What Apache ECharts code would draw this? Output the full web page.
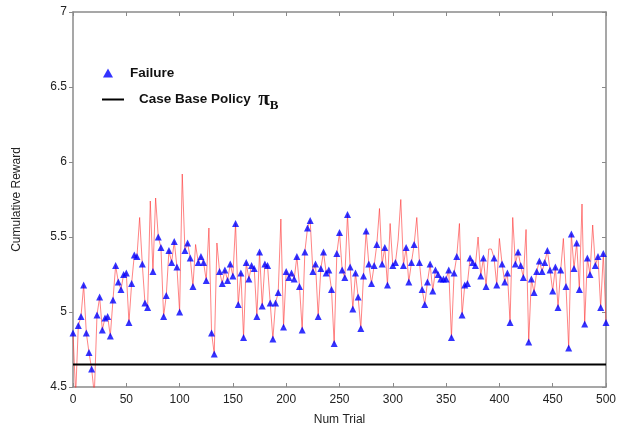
<!DOCTYPE html>
<html>
<head>
<meta charset="utf-8">
<script src="https://cdn.jsdelivr.net/npm/echarts@6/dist/echarts.min.js"></script>
<style>
html,body{margin:0;padding:0;background:#fff;}
#chart{width:620px;height:431px;}
</style>
</head>
<body>
<div id="chart"></div>
<script>
// Trials are sampled every 2.5 trials from 0 to 500
const trialStart = 0;
const trialStep = 2.5;
// Cumulative reward per sample
const rewardValues = [
4.86,4.45,4.91,4.97,5.18,4.86,4.73,4.62,4.45,4.98,
5.10,4.88,4.96,4.97,4.84,5.08,5.31,5.20,5.15,5.25,
5.26,4.93,5.19,5.38,5.37,5.63,5.32,5.06,5.03,5.74,
5.27,5.76,5.50,5.43,4.97,5.11,5.41,5.33,5.47,5.30,
5.00,5.92,5.41,5.46,5.36,5.17,5.45,5.33,5.37,5.33,
5.21,5.56,4.86,4.72,5.46,5.27,5.19,5.28,5.21,5.32,
5.24,5.59,5.05,5.26,4.83,5.33,5.22,5.31,5.29,4.97,
5.40,5.04,5.32,5.31,5.06,4.82,5.06,5.13,5.62,4.90,
5.27,5.23,5.26,5.22,5.37,5.17,4.88,5.40,5.56,5.61,
5.27,5.32,4.97,5.29,5.40,5.26,5.28,5.15,4.79,5.39,
5.53,5.28,5.23,5.65,5.30,5.02,5.26,5.10,4.89,5.24,
5.54,5.32,5.19,5.31,5.45,5.69,5.32,5.43,5.18,5.59,
5.31,5.33,5.48,5.75,5.31,5.43,5.20,5.33,5.45,5.63,
5.33,5.15,5.05,5.20,5.32,5.14,5.28,5.25,5.22,5.22,
5.22,5.28,4.83,5.26,5.37,5.59,4.98,5.18,5.19,5.36,
5.33,5.31,5.50,5.24,5.36,5.17,5.42,5.42,5.36,5.18,
5.49,5.32,5.20,5.26,4.93,5.63,5.32,5.40,5.31,5.23,
5.55,4.80,5.22,5.13,5.27,5.34,5.27,5.33,5.41,5.28,
5.14,5.30,5.03,5.28,5.49,5.17,4.76,5.52,5.29,5.46,
5.15,5.72,4.92,5.36,5.25,5.58,5.31,5.37,5.03,5.39,
4.93
];
// 1 = failure (blue triangle) at that sample, 0 = no failure
const failureFlags = [
1,0,1,1,1,1,1,1,0,1,
1,1,1,1,1,1,1,1,1,1,
1,1,1,1,1,0,1,1,1,0,
1,0,1,1,1,1,1,1,1,1,
1,0,1,1,1,1,0,1,1,1,
1,0,1,1,0,1,1,1,1,1,
1,1,1,1,1,1,1,1,1,1,
1,1,1,1,1,1,1,1,0,1,
1,1,1,1,1,1,1,1,1,1,
1,1,1,1,1,1,1,1,1,1,
1,1,1,1,1,1,1,1,1,1,
1,1,1,1,1,0,1,1,1,0,
1,1,0,0,1,1,1,1,1,0,
1,1,1,1,1,1,1,1,1,1,
1,1,1,1,1,0,1,1,1,1,
1,1,0,1,1,1,0,0,1,1,
0,1,1,1,1,0,1,1,1,1,
0,1,1,1,1,1,1,1,1,1,
1,1,1,1,0,1,1,1,1,1,
1,0,1,1,1,0,1,1,1,1,
1
];
const baselineName = 'Case Base Policy';
const baselineValue = 4.65;
const baselineRange = [0, 500];
const xTicks = {min: 0, max: 500, interval: 50};
const yTicks = {min: 4.5, max: 7, interval: 0.5};

const linePoints = rewardValues.map((v, i) => [trialStart + i * trialStep, v]);
const failurePoints = linePoints.filter((p, i) => failureFlags[i] === 1);
const baselinePoints = baselineRange.map(x => [x, baselineValue]);

const axisGray = '#8a8a8a';
const font = 'Liberation Sans, Arial, sans-serif';

const chart = echarts.init(document.getElementById('chart'), null, {renderer: 'canvas'});
chart.setOption({
  animation: false,
  backgroundColor: '#fff',
  grid: {left: 73, right: 14, top: 12, bottom: 39, containLabel: false},
  legend: [
    {
      data: [{name: 'Failure', icon: 'triangle'}],
      left: 98, top: 61, orient: 'vertical',
      itemWidth: 10, itemHeight: 9,
      textStyle: {fontFamily: font, fontWeight: 'bold', fontSize: 13.5, color: '#111', padding: [0, 0, 0, 12]}
    },
    {
      data: [{name: baselineName, icon: 'rect'}],
      left: 97, top: 84, orient: 'vertical',
      itemWidth: 22, itemHeight: 2,
      formatter: function (n) { return '{t|' + n + '  }{pi|π}{sub|B}'; },
      textStyle: {
        fontFamily: font, fontWeight: 'bold', fontSize: 13.5, color: '#111', padding: [0, 0, 0, 10],
        rich: {
          t: {fontFamily: font, fontWeight: 'bold', fontSize: 13.5, color: '#111'},
          pi: {fontFamily: 'Liberation Serif, serif', fontWeight: 'bold', fontSize: 21, color: '#111'},
          sub: {fontFamily: 'Liberation Serif, serif', fontWeight: 'bold', fontSize: 13, color: '#111', padding: [12, 0, 0, 0]}
        }
      }
    }
  ],
  xAxis: [
    {
      type: 'value', min: xTicks.min, max: xTicks.max, interval: xTicks.interval,
      name: 'Num Trial', nameLocation: 'middle', nameGap: 27,
      nameTextStyle: {fontFamily: font, fontSize: 12, color: '#222'},
      axisLine: {show: true, onZero: false, lineStyle: {color: axisGray, width: 1.5}},
      axisTick: {show: true, inside: true, length: 4, lineStyle: {color: axisGray}},
      axisLabel: {fontFamily: font, fontSize: 12, color: '#222', margin: 7},
      splitLine: {show: false}
    },
    {
      type: 'value', position: 'top', min: xTicks.min, max: xTicks.max, interval: xTicks.interval,
      axisLine: {show: true, onZero: false, lineStyle: {color: axisGray, width: 1.5}},
      axisTick: {show: true, inside: true, length: 4, lineStyle: {color: axisGray}},
      axisLabel: {show: false}, splitLine: {show: false}
    }
  ],
  yAxis: [
    {
      type: 'value', min: yTicks.min, max: yTicks.max, interval: yTicks.interval,
      name: 'Cumulative Reward', nameLocation: 'middle', nameGap: 50, nameRotate: 90,
      nameTextStyle: {fontFamily: font, fontSize: 12, color: '#222'},
      axisLine: {show: true, onZero: false, lineStyle: {color: axisGray, width: 1.5}},
      axisTick: {show: true, inside: false, length: 4, lineStyle: {color: axisGray}},
      axisLabel: {fontFamily: font, fontSize: 12, color: '#222', margin: 6},
      splitLine: {show: false}
    },
    {
      type: 'value', position: 'right', min: yTicks.min, max: yTicks.max, interval: yTicks.interval,
      axisLine: {show: true, onZero: false, lineStyle: {color: axisGray, width: 1.5}},
      axisTick: {show: true, inside: true, length: 4, lineStyle: {color: axisGray}},
      axisLabel: {show: false}, splitLine: {show: false}
    }
  ],
  series: [
    {
      name: 'Reward', type: 'line', data: linePoints, symbol: 'none',
      lineStyle: {color: 'rgba(255,50,50,0.6)', width: 1},
      clip: true, z: 2, legendHoverLink: false
    },
    {
      name: baselineName, type: 'line', data: baselinePoints, symbol: 'none',
      lineStyle: {color: '#000', width: 2}, itemStyle: {color: '#000'}, z: 3
    },
    {
      name: 'Failure', type: 'scatter', data: failurePoints, symbol: 'triangle',
      symbolSize: [7, 7], itemStyle: {color: '#0000ff'}, z: 4
    }
  ]
});
</script>
</body>
</html>
